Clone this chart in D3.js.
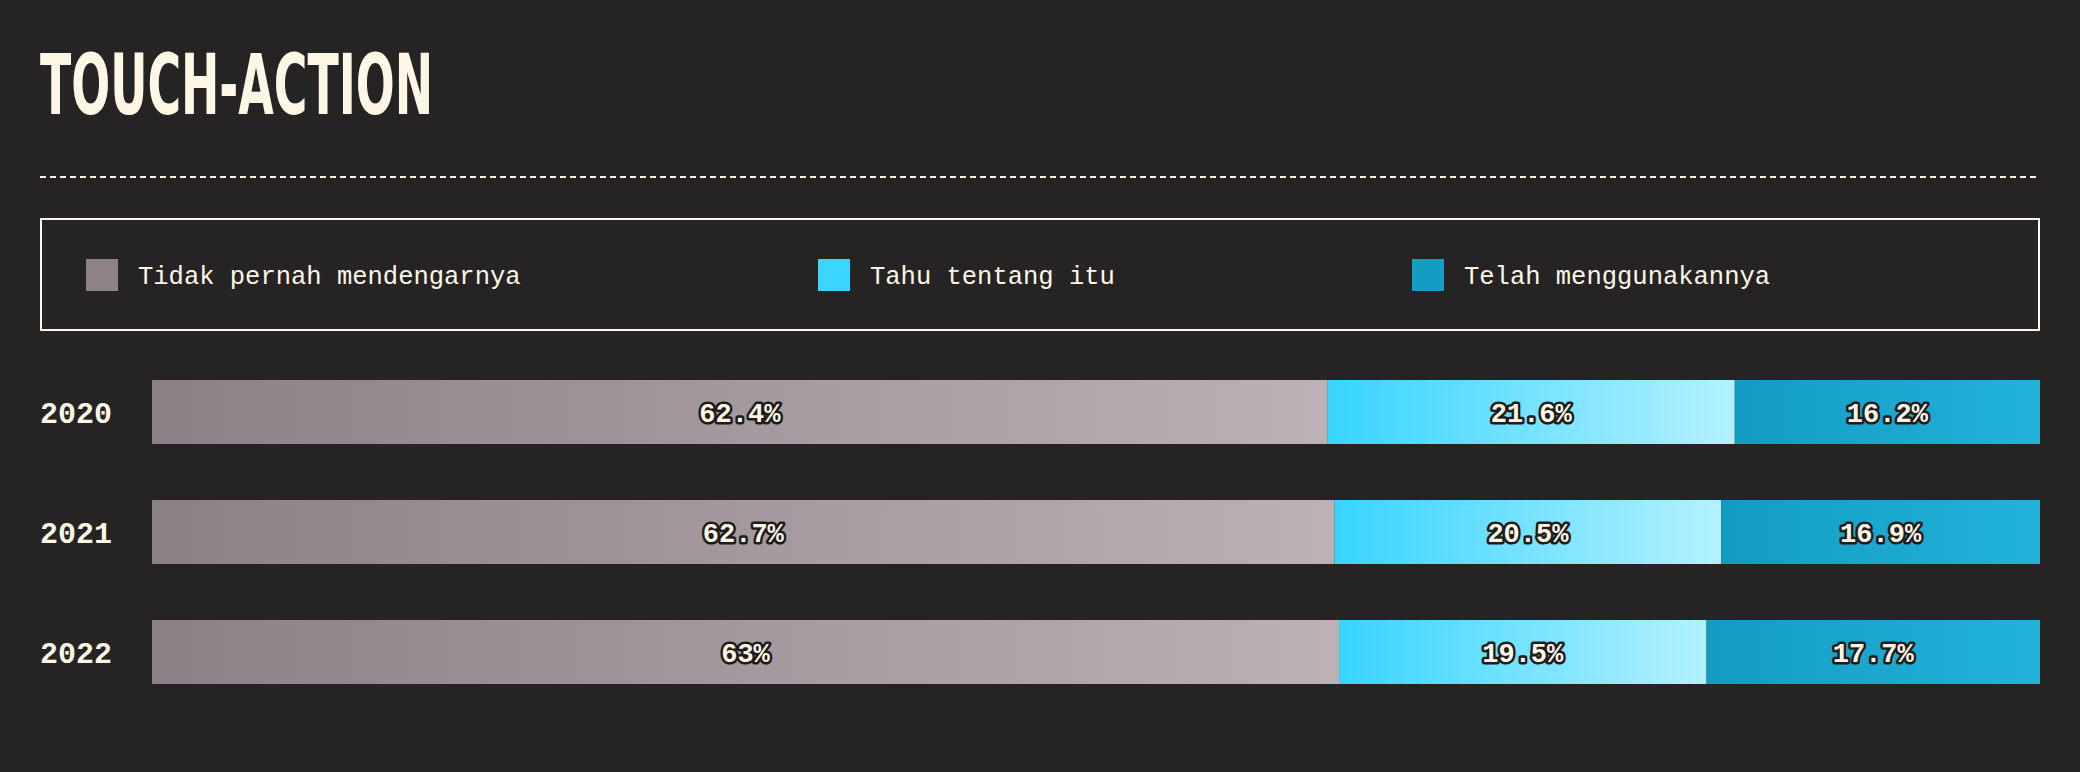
<!DOCTYPE html>
<html>
<head>
<meta charset="utf-8">
<script src="https://cdn.jsdelivr.net/npm/d3@7"></script>
<style>
  html, body { margin: 0; padding: 0; background: #262324; }
  svg { display: block; }
</style>
</head>
<body>
<script>
const years = ["2020", "2021", "2022"];
const seriesNames = ["Tidak pernah mendengarnya", "Tahu tentang itu", "Telah menggunakannya"];
const neverHeard = [62.4, 62.7, 63];
const knowAbout = [21.6, 20.5, 19.5];
const haveUsed = [16.2, 16.9, 17.7];
const labelText = [["62.4%", "62.7%", "63%"], ["21.6%", "20.5%", "19.5%"], ["16.2%", "16.9%", "17.7%"]];

const W = 2080, H = 772;
const bg = "#262324", cream = "#fff7e6";
const swatchColors = ["#8c8288", "#3ad6ff", "#149dc3"];
const gradStops = [["#8a8086", "#bcb1b5"], ["#38d4fe", "#b4f1ff"], ["#139cc2", "#22b2da"]];

const svg = d3.select("body").append("svg").attr("width", W).attr("height", H);
svg.append("rect").attr("width", W).attr("height", H).attr("fill", bg);

const defs = svg.append("defs");
gradStops.forEach((s, i) => {
  const g = defs.append("linearGradient").attr("id", "g" + i).attr("x1", "0%").attr("x2", "100%").attr("y1", "0%").attr("y2", "0%");
  g.append("stop").attr("offset", "0%").attr("stop-color", s[0]);
  g.append("stop").attr("offset", "100%").attr("stop-color", s[1]);
});

// Title
svg.append("text").attr("x", 40).attr("y", 114)
  .attr("font-family", "'Liberation Sans Narrow', 'DejaVu Sans Condensed', sans-serif")
  .attr("font-weight", "bold").attr("font-size", 84)
  .attr("textLength", 393).attr("lengthAdjust", "spacingAndGlyphs")
  .attr("fill", cream).text("TOUCH-ACTION");

// Dashed rule
svg.append("line").attr("x1", 40).attr("x2", 2040).attr("y1", 177).attr("y2", 177)
  .attr("stroke", cream).attr("stroke-width", 2).attr("stroke-dasharray", "6 4");

// Legend box
svg.append("rect").attr("x", 41).attr("y", 219).attr("width", 1998).attr("height", 111)
  .attr("fill", "none").attr("stroke", cream).attr("stroke-width", 2);

const legendX = [86, 818, 1412];
const lg = svg.selectAll(".lg").data(seriesNames).join("g").attr("class", "lg")
  .attr("transform", (d, i) => `translate(${legendX[i]},259)`);
lg.append("rect").attr("width", 32).attr("height", 32).attr("fill", (d, i) => swatchColors[i]);
lg.append("text").attr("x", 52).attr("y", 16).attr("dy", "0.35em")
  .attr("font-family", "'Liberation Mono', 'DejaVu Sans Mono', monospace")
  .attr("font-size", 25.5).attr("fill", cream).text(d => d);

// Data table
const rows = years.map((y, i) => ({ year: y, s0: neverHeard[i], s1: knowAbout[i], s2: haveUsed[i] }));
const stack = d3.stack().keys(["s0", "s1", "s2"]).offset(d3.stackOffsetExpand);
const stacked = stack(rows);

const x = d3.scaleLinear().domain([0, 1]).range([152, 2040]);
const y = d3.scaleBand().domain(years).range([380, 684]).paddingInner(56 / 120).paddingOuter(0);

const layers = svg.selectAll(".layer").data(stacked).join("g").attr("class", "layer")
  .attr("fill", (d, i) => `url(#g${i})`);
layers.selectAll("rect").data(d => d).join("rect")
  .attr("x", d => x(d[0])).attr("width", d => x(d[1]) - x(d[0]))
  .attr("y", d => y(d.data.year)).attr("height", y.bandwidth());

// value labels
stacked.forEach((layer, si) => {
  svg.append("g").selectAll("text").data(layer).join("text")
    .attr("x", d => (x(d[0]) + x(d[1])) / 2)
    .attr("y", d => y(d.data.year) + y.bandwidth() / 2)
    .attr("dy", "0.36em").attr("text-anchor", "middle")
    .attr("font-family", "'Liberation Mono', 'DejaVu Sans Mono', monospace")
    .attr("font-weight", "bold").attr("font-size", 27)
    .attr("fill", cream).attr("stroke", "#1e1b1c").attr("stroke-width", 5)
    .attr("stroke-linejoin", "round").attr("paint-order", "stroke")
    .text((d, i) => labelText[si][i]);
});

// year axis labels
svg.append("g").selectAll("text").data(years).join("text")
  .attr("x", 40).attr("y", d => y(d) + y.bandwidth() / 2).attr("dy", "0.36em")
  .attr("font-family", "'Liberation Mono', 'DejaVu Sans Mono', monospace")
  .attr("font-weight", "bold").attr("font-size", 30)
  .attr("fill", cream).text(d => d);
</script>
</body>
</html>
